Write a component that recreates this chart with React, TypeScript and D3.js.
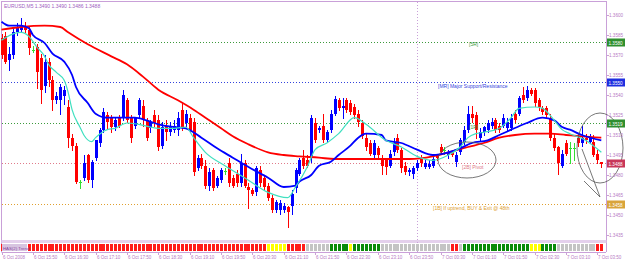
import React from "react";
import * as d3 from "d3";

// ---------- DATA ----------
const opens = [
  1.3583, 1.3584, 1.3566, 1.357, 1.3587, 1.3589, 1.3592, 1.3589, 1.3574, 1.3576,
  1.3568, 1.3547, 1.3565, 1.3551, 1.3536, 1.3536, 1.3539, 1.3531, 1.3508, 1.3502,
  1.3475, 1.3478, 1.3495, 1.3476, 1.3493, 1.3504, 1.3514, 1.3525, 1.3523, 1.3516,
  1.3523, 1.3523, 1.3536, 1.3523, 1.3517, 1.3525, 1.3532, 1.3521, 1.3515, 1.3525,
  1.3521, 1.3502, 1.3517, 1.3512, 1.3514, 1.3514, 1.3529, 1.3519, 1.3523, 1.352,
  1.3485, 1.3493, 1.3487, 1.3472, 1.3484, 1.3472, 1.3476, 1.3483, 1.3489, 1.3478,
  1.3481, 1.3474, 1.3489, 1.3471, 1.3469, 1.3467, 1.3484, 1.3478, 1.3472, 1.3463,
  1.3454, 1.3454, 1.3454, 1.3456, 1.3457, 1.347, 1.3481, 1.3493, 1.3491, 1.3493,
  1.3519, 1.3514, 1.3517, 1.3506, 1.3514, 1.3526, 1.3536, 1.353, 1.3536, 1.3534,
  1.3531, 1.3526, 1.3519, 1.3508, 1.3504, 1.3495, 1.35, 1.3491, 1.3491, 1.3487,
  1.3497, 1.3508, 1.3499, 1.3487, 1.3482, 1.3481, 1.3485, 1.3492, 1.3486, 1.3486,
  1.3487, 1.3494, 1.3501, 1.3499, 1.3495, 1.3497, 1.349, 1.3497, 1.3505, 1.3514,
  1.3526, 1.3525, 1.3508, 1.3512, 1.3514, 1.3517, 1.3521, 1.3517, 1.3517, 1.3515,
  1.3515, 1.3526, 1.3526, 1.354, 1.3538, 1.3544, 1.3544, 1.3536, 1.353, 1.353,
  1.3523, 1.3508, 1.3501, 1.3487, 1.3504, 1.35, 1.35, 1.3508, 1.3504, 1.3508,
  1.3505, 1.3505, 1.3496, 1.349,
];
const highs = [
  1.3586, 1.3587, 1.3576, 1.359, 1.3594, 1.3598, 1.3595, 1.3591, 1.3577, 1.3578,
  1.3571, 1.357, 1.3568, 1.3554, 1.3542, 1.3548, 1.3547, 1.3536, 1.3511, 1.3504,
  1.3476, 1.3495, 1.3496, 1.3491, 1.3506, 1.3515, 1.353, 1.3527, 1.3525, 1.3523,
  1.3525, 1.3544, 1.3538, 1.3525, 1.3523, 1.3538, 1.3536, 1.3523, 1.3521, 1.3529,
  1.3525, 1.352, 1.3521, 1.352, 1.3521, 1.3527, 1.3535, 1.3529, 1.3526, 1.3523,
  1.3495, 1.3496, 1.3491, 1.3485, 1.3485, 1.3479, 1.3485, 1.3485, 1.3493, 1.348,
  1.3484, 1.3496, 1.3491, 1.3474, 1.347, 1.3487, 1.3487, 1.348, 1.3474, 1.3465,
  1.3461, 1.3461, 1.3459, 1.3457, 1.3469, 1.3485, 1.3493, 1.3499, 1.3495, 1.3525,
  1.3523, 1.3517, 1.3526, 1.3514, 1.3529, 1.3539, 1.3538, 1.3538, 1.3538, 1.3536,
  1.3533, 1.3529, 1.3521, 1.3511, 1.3506, 1.3506, 1.3502, 1.3495, 1.3493, 1.3499,
  1.3508, 1.3511, 1.35, 1.349, 1.3485, 1.3487, 1.3491, 1.3495, 1.3491, 1.3491,
  1.3495, 1.3496, 1.3503, 1.3501, 1.3499, 1.3499, 1.3497, 1.3508, 1.3517, 1.3532,
  1.3532, 1.3527, 1.3515, 1.3517, 1.3521, 1.3523, 1.3523, 1.3519, 1.3526, 1.3523,
  1.3526, 1.3529, 1.3539, 1.3546, 1.3547, 1.3545, 1.3545, 1.3538, 1.3532, 1.3532,
  1.3526, 1.3511, 1.3502, 1.3499, 1.3506, 1.3505, 1.3504, 1.3511, 1.3517, 1.3511,
  1.3511, 1.351, 1.3499, 1.349,
];
const lows = [
  1.3568, 1.3564, 1.3559, 1.3568, 1.3585, 1.3588, 1.3587, 1.3571, 1.3572, 1.3545,
  1.3534, 1.3542, 1.3547, 1.3529, 1.3534, 1.3526, 1.3533, 1.3501, 1.3499, 1.3474,
  1.347, 1.3476, 1.3475, 1.3471, 1.3491, 1.3502, 1.3512, 1.3515, 1.3512, 1.3514,
  1.3516, 1.3521, 1.352, 1.3505, 1.3515, 1.3523, 1.3517, 1.3506, 1.3512, 1.3517,
  1.3499, 1.35, 1.3506, 1.351, 1.3512, 1.351, 1.3514, 1.3517, 1.3512, 1.348,
  1.3484, 1.3485, 1.347, 1.3469, 1.3469, 1.3471, 1.3475, 1.3481, 1.3472, 1.3471,
  1.3472, 1.3472, 1.3471, 1.3455, 1.3465, 1.3465, 1.3472, 1.3469, 1.3461, 1.3452,
  1.3452, 1.3451, 1.3452, 1.3441, 1.3451, 1.3467, 1.348, 1.3485, 1.3486, 1.349,
  1.3505, 1.3512, 1.3505, 1.3505, 1.3512, 1.3525, 1.3529, 1.3523, 1.3527, 1.3526,
  1.3523, 1.3517, 1.3508, 1.3499, 1.3495, 1.3493, 1.3493, 1.3481, 1.3481, 1.3486,
  1.3495, 1.3497, 1.3482, 1.3481, 1.348, 1.3478, 1.3484, 1.3487, 1.3485, 1.3485,
  1.3486, 1.3491, 1.3496, 1.3496, 1.3493, 1.3494, 1.3487, 1.3496, 1.3503, 1.3512,
  1.352, 1.3508, 1.3506, 1.351, 1.3512, 1.3515, 1.3512, 1.3512, 1.3516, 1.3514,
  1.3514, 1.352, 1.3525, 1.3535, 1.3536, 1.354, 1.3532, 1.3529, 1.3526, 1.3523,
  1.3506, 1.3499, 1.3481, 1.3486, 1.3495, 1.3489, 1.3491, 1.3502, 1.3502, 1.3504,
  1.3504, 1.3494, 1.3489, 1.3486,
];
const closes = [
  1.357, 1.3565, 1.3571, 1.3587, 1.3591, 1.3592, 1.3589, 1.3575, 1.3574, 1.3557,
  1.3544, 1.3565, 1.3551, 1.3536, 1.3539, 1.3546, 1.3544, 1.3508, 1.3502, 1.3475,
  1.3475, 1.3489, 1.3476, 1.349, 1.3506, 1.3514, 1.3527, 1.352, 1.3516, 1.3521,
  1.3517, 1.354, 1.3521, 1.3508, 1.3523, 1.3536, 1.3521, 1.3508, 1.352, 1.3519,
  1.3501, 1.3516, 1.3512, 1.3517, 1.3517, 1.3523, 1.3515, 1.3526, 1.3514, 1.3482,
  1.3493, 1.3487, 1.3472, 1.3482, 1.347, 1.3478, 1.3484, 1.3483, 1.3474, 1.3472,
  1.3474, 1.3489, 1.3472, 1.3469, 1.3466, 1.3485, 1.3474, 1.3471, 1.3463, 1.3454,
  1.346, 1.3459, 1.3457, 1.3452, 1.3466, 1.3484, 1.3491, 1.3487, 1.3487, 1.3523,
  1.3506, 1.3515, 1.3506, 1.3512, 1.3526, 1.3537, 1.353, 1.3532, 1.3529, 1.3527,
  1.3525, 1.352, 1.3509, 1.3501, 1.3496, 1.3504, 1.3495, 1.3487, 1.3486, 1.3496,
  1.3504, 1.3499, 1.3485, 1.3482, 1.3484, 1.3485, 1.3489, 1.3489, 1.3489, 1.3488,
  1.3492, 1.3493, 1.3497, 1.3499, 1.3497, 1.3495, 1.3495, 1.3506, 1.3514, 1.3526,
  1.3523, 1.3514, 1.3512, 1.3516, 1.3519, 1.352, 1.3514, 1.3514, 1.3523, 1.352,
  1.3523, 1.3521, 1.3538, 1.3536, 1.3544, 1.3541, 1.3534, 1.3531, 1.3527, 1.3525,
  1.3508, 1.35, 1.3489, 1.3496, 1.3496, 1.35, 1.35, 1.3504, 1.3508, 1.3506,
  1.3508, 1.3495, 1.3491, 1.3488,
];

// moving averages (read at sample bars)
const slowMaBars = [0, 5, 11, 15, 17, 22, 28, 32, 36, 40, 45, 49, 53, 56, 59, 63, 68, 72, 76, 81, 85, 89, 93, 97, 104, 110, 114, 119, 123, 127, 131, 136, 140, 144, 148, 153];
const slowMaVals = [1.3589, 1.3591, 1.3592, 1.3591, 1.3587, 1.3578, 1.3569, 1.3563, 1.3554, 1.3544, 1.3536, 1.3529, 1.3521, 1.3515, 1.3509, 1.3503, 1.3497, 1.3495, 1.3494, 1.3493, 1.3492, 1.3492, 1.3492, 1.3492, 1.3492, 1.3494, 1.3497, 1.3501, 1.3504, 1.3508, 1.351, 1.3511, 1.3511, 1.351, 1.3509, 1.3508];

const midMaBars = [0, 2, 5, 7, 8, 11, 13, 16, 18, 19, 22, 24, 27, 30, 34, 37, 40, 44, 47, 51, 55, 59, 63, 68, 72, 75, 76, 79, 81, 84, 86, 89, 91, 93, 97, 98, 102, 106, 110, 114, 117, 120, 124, 127, 130, 134, 138, 141, 143, 145, 148, 153];
const midMaVals = [1.3595, 1.3592, 1.3592, 1.359, 1.3585, 1.3579, 1.3571, 1.3565, 1.3555, 1.3546, 1.3534, 1.3526, 1.3523, 1.3523, 1.3523, 1.3521, 1.3518, 1.3516, 1.3515, 1.3508, 1.35, 1.3493, 1.3486, 1.3478, 1.3471, 1.3472, 1.3475, 1.348, 1.3487, 1.349, 1.3495, 1.3502, 1.3508, 1.3511, 1.351, 1.3506, 1.3504, 1.3499, 1.3495, 1.3497, 1.35, 1.3504, 1.3506, 1.351, 1.3514, 1.3519, 1.3523, 1.3521, 1.3516, 1.3514, 1.351, 1.3506];

const fastMaBars = [0, 1, 5, 7, 9, 11, 12, 14, 16, 17, 18, 20, 21, 23, 24, 27, 29, 32, 35, 40, 44, 47, 49, 52, 57, 62, 68, 73, 75, 78, 80, 83, 86, 90, 93, 98, 102, 106, 110, 114, 117, 119, 121, 123, 127, 130, 132, 136, 138, 141, 143, 145, 149, 153];
const fastMaVals = [1.3581, 1.3583, 1.3587, 1.3584, 1.3576, 1.3569, 1.3563, 1.3557, 1.3551, 1.3542, 1.3529, 1.3516, 1.351, 1.3505, 1.3508, 1.3514, 1.3515, 1.3519, 1.3518, 1.3515, 1.3515, 1.3516, 1.3508, 1.3497, 1.3487, 1.3478, 1.3467, 1.3463, 1.3471, 1.3486, 1.3499, 1.3504, 1.3511, 1.3523, 1.3518, 1.3506, 1.3501, 1.3494, 1.3491, 1.3495, 1.3501, 1.3508, 1.3511, 1.3512, 1.3515, 1.3523, 1.353, 1.3531, 1.353, 1.3521, 1.3514, 1.3511, 1.3506, 1.3497];

const priceTicks = [1.36, 1.3585, 1.357, 1.3555, 1.354, 1.3525, 1.351, 1.3495, 1.348, 1.3465, 1.345, 1.3435];
const timeLabels = [
  "6 Oct 2008", "6 Oct 15:50", "6 Oct 16:30", "6 Oct 17:10", "6 Oct 17:50", "6 Oct 18:30", "6 Oct 19:10",
  "6 Oct 19:50", "6 Oct 20:30", "6 Oct 21:10", "6 Oct 21:50", "6 Oct 22:30", "6 Oct 23:10", "6 Oct 23:50",
  "7 Oct 00:30", "7 Oct 01:10", "7 Oct 01:50", "7 Oct 02:30", "7 Oct 03:10", "7 Oct 03:50",
];
const dayBreakBar = 106;

// horizontal levels
const levelPrices = [1.358, 1.355, 1.3519, 1.3489, 1.3458];
const levelNames = ["[5R]", "[MR] Major Support/Resistance", "[1R]", "[2B] Pivot", "[1B] If uptrend, BUY & Exit @ 48th"];
const levelTags = ["1.3580", "1.3550", "1.3519", "1.3488", "1.3458"];

// indicator histogram runs [count, state]
const indicatorRuns: [number, string][] = [
  [68, "down"], [5, "warn"], [5, "down"], [6, "flat"], [5, "up"], [1, "warn"], [7, "up"],
  [18, "flat"], [2, "down"], [1, "flat"], [17, "up"], [3, "warn"], [4, "up"], [10, "flat"], [2, "down"],
];

// ---------- STYLE ----------
const FRAME = "#c9a0d8";
const TEXTC = "#b77ac4";
const FONT = "'Liberation Sans', Arial, sans-serif";
const levelColors = ["#3c9a3c", "#3344dd", "#3c9a3c", "#e07a8a", "#e0a030"];
const tagColors = ["#2f8f2f", "#1e2ee0", "#2f8f2f", "#c8375a", "#d9a43a"];
const stateColors: Record<string, string> = { down: "#ff1a1a", warn: "#ffff00", flat: "#c4c4c4", up: "#0b8a0b" };

export default function App() {
  const W = 625, H = 261;
  const n = closes.length;
  const x = d3.scaleLinear().domain([0, n - 1]).range([1.5, 601.3]);
  const y = d3.scaleLinear().domain([1.3435, 1.36]).range([235, 15]);

  const maLine = (bars: number[], vals: number[]) =>
    d3.line<number>().x((_, k) => x(bars[k])).y((v) => y(v)).curve(d3.curveMonotoneX)(vals) || "";

  const states: string[] = [];
  indicatorRuns.forEach(([c, s]) => { for (let k = 0; k < c; k++) states.push(s); });

  const chartRight = 606;
  const indTop = 244, indBot = 251;

  return (
    <div style={{ position: "fixed", left: 0, top: 0, width: W, height: H, background: "#fff" }}>
      <svg width={W} height={H} style={{ display: "block" }} fontFamily={FONT}>
        <rect x={0} y={0} width={W} height={H} fill="#ffffff" />
        {/* frame */}
        <line x1={1.5} y1={1} x2={1.5} y2={indBot + 1} stroke={FRAME} />
        <line x1={1.5} y1={1.5} x2={chartRight} y2={1.5} stroke={FRAME} />
        <line x1={chartRight + 0.5} y1={1} x2={chartRight + 0.5} y2={indBot + 1} stroke={FRAME} />
        <rect x={1.5} y={240} width={chartRight - 1} height={3} fill="#e4d0ec" />
        <line x1={1.5} y1={indBot + 1.5} x2={chartRight} y2={indBot + 1.5} stroke={FRAME} />

        {/* horizontal levels */}
        {levelPrices.map((p, k) => (
          <line key={"lv" + k} x1={2} x2={chartRight} y1={Math.round(y(p)) + 0.5} y2={Math.round(y(p)) + 0.5}
            stroke={levelColors[k]} strokeDasharray="1,2" strokeWidth={1} />
        ))}
        {/* day break */}
        <line x1={Math.round(x(dayBreakBar)) + 0.5} x2={Math.round(x(dayBreakBar)) + 0.5} y1={2} y2={indBot + 1}
          stroke={FRAME} strokeDasharray="1,2" />

        {/* candles */}
        {closes.map((c, i) => {
          const o = opens[i];
          const cx = Math.round(x(i));
          const col = c > o ? "#0000ff" : c < o ? "#ff0000" : "#33dd33";
          const top = Math.round(y(Math.max(o, c)));
          const bot = Math.round(y(Math.min(o, c)));
          return (
            <g key={"c" + i}>
              <line x1={cx + 0.5} x2={cx + 0.5} y1={Math.round(y(highs[i]))} y2={Math.round(y(lows[i])) + 1} stroke={col} strokeWidth={1} />
              {c !== o && <rect x={cx - 1} y={top} width={3} height={Math.max(1, bot - top)} fill={col} />}
              {c === o && <rect x={cx - 1} y={top} width={3} height={1} fill={col} />}
            </g>
          );
        })}

        {/* moving averages */}
        <path d={maLine(slowMaBars, slowMaVals)} fill="none" stroke="#ff0000" strokeWidth={1.8} />
        <path d={maLine(midMaBars, midMaVals)} fill="none" stroke="#0000ff" strokeWidth={1.8} />
        <path d={maLine(fastMaBars, fastMaVals)} fill="none" stroke="#40e0c0" strokeWidth={1.2} />

        {/* level texts */}
        <text x={469} y={46} fontSize={5} fill={levelColors[0]}>{levelNames[0]}</text>
        <text x={438} y={88} fontSize={5} fill={levelColors[1]}>{levelNames[1]}</text>
        <text x={469} y={129} fontSize={5} fill={levelColors[2]}>{levelNames[2]}</text>
        <text x={462} y={169} fontSize={5} fill={levelColors[3]}>{levelNames[3]}</text>
        <text x={433} y={210} fontSize={5} fill={levelColors[4]}>{levelNames[4]}</text>

        {/* annotations */}
        <ellipse cx={467} cy={160} rx={29} ry={18} fill="none" stroke="#555" strokeWidth={0.8} />
        <ellipse cx={600} cy={148} rx={23} ry={35} fill="none" stroke="#555" strokeWidth={0.8} />
        <line x1={582} y1={149} x2={600} y2={197} stroke="#555" strokeWidth={0.8} />
        <line x1={584} y1={181} x2={600} y2={197} stroke="#555" strokeWidth={0.8} />

        {/* title */}
        <text x={4} y={8} fontSize={5} fill="#a060c0">EURUSD,M5  1.3490 1.3490 1.3486 1.3488</text>

        {/* price axis */}
        {priceTicks.map((p, k) => (
          <g key={"pt" + k}>
            <line x1={chartRight} x2={chartRight + 3} y1={Math.round(y(p)) + 0.5} y2={Math.round(y(p)) + 0.5} stroke={FRAME} />
            <text x={609} y={y(p) + 2} fontSize={4.6} fill={TEXTC}>{d3.format(".4f")(p)}</text>
          </g>
        ))}
        {levelPrices.map((p, k) => (
          <g key={"tag" + k}>
            <rect x={607} y={Math.round(y(p)) - 3.5} width={18} height={8} fill={tagColors[k]} />
            <text x={608.5} y={Math.round(y(p)) + 2.5} fontSize={4.6} fill="#ffffff">{levelTags[k]}</text>
          </g>
        ))}

        {/* indicator window */}
        {states.map((s, i) => (
          <rect key={"ind" + i} x={Math.round(x(i)) - 1} y={indTop} width={3} height={indBot - indTop} fill={stateColors[s]} />
        ))}
        <rect x={2} y={indTop} width={25} height={indBot - indTop} fill="#d7c4e0" />
        <text x={3} y={indBot - 1.5} fontSize={4.3} fill="#8a4aa0">HAS(2)  Trend</text>

        {/* time axis */}
        {timeLabels.map((t, k) => {
          const tx = Math.round(x(k * 8));
          return (
            <g key={"tl" + k}>
              <line x1={tx + 0.5} x2={tx + 0.5} y1={indBot + 1} y2={indBot + 4} stroke={FRAME} />
              <text x={tx + 1} y={259} fontSize={4.5} fill={TEXTC}>{t}</text>
            </g>
          );
        })}
      </svg>
    </div>
  );
}
